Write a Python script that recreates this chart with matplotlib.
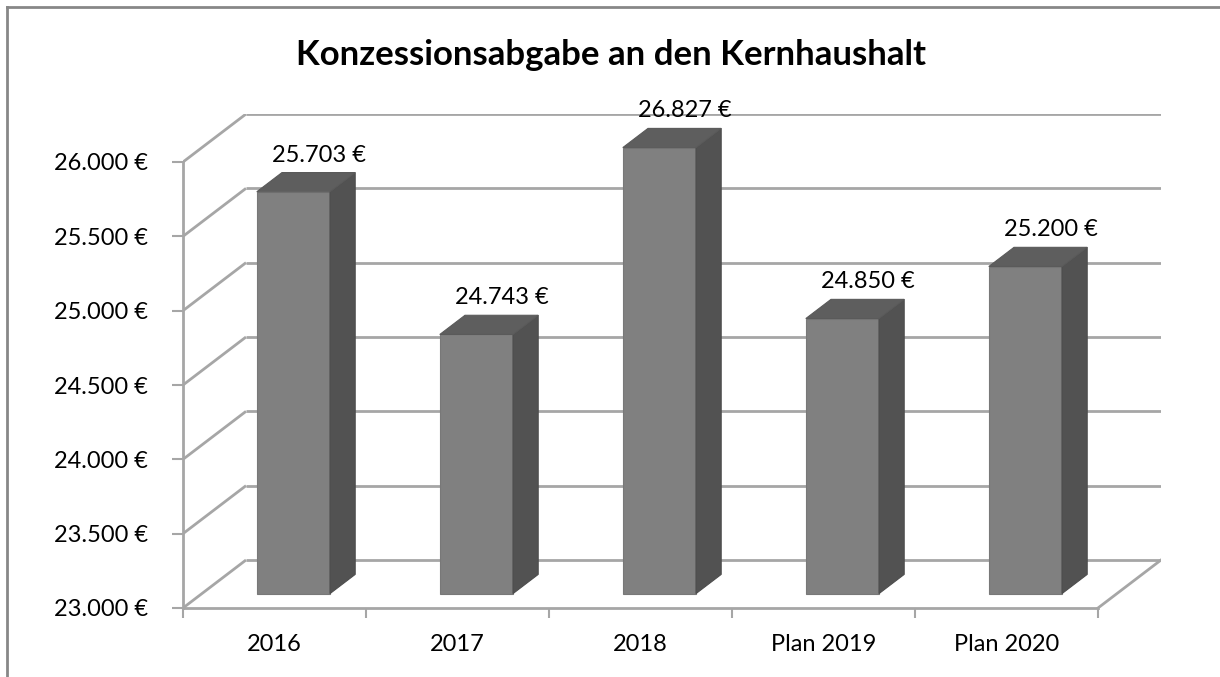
import matplotlib.pyplot as plt
from matplotlib.patches import Polygon

plt.rcParams['font.family'] = ['Lato', 'DejaVu Sans']

# data
categories = ["2016", "2017", "2018", "Plan 2019", "Plan 2020"]
values = [25703, 24743, 26827, 24850, 25200]
yticks = [23000, 23500, 24000, 24500, 25000, 25500, 26000]
title = "Konzessionsabgabe an den Kernhaushalt"

ymin, ymax = 23000, 26000
DX = 63 / 183.0      # depth offset in category units
DY = 48 / (446 / 3000.0)   # depth offset in value units
grid_c = "#a6a6a6"


def euro(v):
    return "{:,.0f} €".format(v).replace(",", ".")


def proj(x, v, d):
    return (x + d * DX, v + d * DY)


fig = plt.figure(figsize=(12.2, 6.77), dpi=100)
W, H = 1220, 677
# axes box: front plane left/bottom to back plane right/top
ax = fig.add_axes([183 / W, (H - 608) / H, (1161 - 183) / W, (608 - 114) / H])
n = len(categories)
ax.set_xlim(0, n + DX)
ax.set_ylim(ymin, ymax + DY)
ax.patch.set_alpha(0)

# back wall + side wall gridlines
for t in yticks:
    bx, by = proj(0, t, 1)
    ax.plot([0, bx], [t, by], color=grid_c, lw=2, solid_capstyle='butt', zorder=1)
    ax.plot([bx, n + DX], [by, by], color=grid_c, lw=2, solid_capstyle='butt', zorder=1)
# floor right edge
fx, fy = proj(n, ymin, 1)
ax.plot([n, fx], [ymin, fy], color=grid_c, lw=2, zorder=1)

# bars (value above axis max gets clipped like in excel)
for i, v in enumerate(values):
    top = min(v, ymax)
    x0, x1 = i + 0.3, i + 0.7
    d0, d1 = 0.3, 0.7
    front = [proj(x0, ymin, d0), proj(x1, ymin, d0), proj(x1, top, d0), proj(x0, top, d0)]
    side = [proj(x1, ymin, d0), proj(x1, ymin, d1), proj(x1, top, d1), proj(x1, top, d0)]
    lid = [proj(x0, top, d0), proj(x1, top, d0), proj(x1, top, d1), proj(x0, top, d1)]
    ax.add_patch(Polygon(front, closed=True, fc="#808080", ec="#787878", lw=0.8, zorder=3))
    ax.add_patch(Polygon(side, closed=True, fc="#525252", ec="#4d4d4d", lw=0.8, zorder=3))
    ax.add_patch(Polygon(lid, closed=True, fc="#5e5e5e", ec="#5a5a5a", lw=0.8, zorder=3))
    lx, ly = proj(i + 0.5, top, 0.7)
    ax.annotate(euro(v), (lx, ly), xytext=(0, 5), textcoords='offset points',
                ha='center', va='bottom', fontsize=17, color='black', zorder=5)

# axes
for s in ['top', 'right']:
    ax.spines[s].set_visible(False)
ax.spines['left'].set_bounds(ymin, ymax)
ax.spines['bottom'].set_bounds(0, n)
for s in ['left', 'bottom']:
    ax.spines[s].set_color(grid_c)
    ax.spines[s].set_linewidth(2)
    ax.spines[s].set_zorder(2)

ax.set_yticks(yticks)
ax.set_yticklabels([euro(t) for t in yticks])
ax.tick_params(axis='y', length=8, width=1.5, color=grid_c, pad=17, labelsize=17)
ax.set_xticks(range(n + 1))
ax.set_xticklabels([])
ax.set_xticks([i + 0.5 for i in range(n)], minor=True)
ax.set_xticklabels(categories, minor=True)
ax.tick_params(axis='x', which='major', length=7, width=1.5, color=grid_c)
ax.tick_params(axis='x', which='minor', length=0, pad=19, labelsize=17)

fig.text(611 / W, 1 - 55 / H, title, ha='center', va='center', fontsize=25, fontweight='bold')

# chart border (only top and left visible in the crop)
fig.add_artist(plt.Line2D([7 / W, 7 / W], [0, 1 - 7 / H], color="#878787", lw=2))
fig.add_artist(plt.Line2D([7 / W, 1], [1 - 7 / H, 1 - 7 / H], color="#878787", lw=2))

fig.savefig("out.png", dpi=100)
